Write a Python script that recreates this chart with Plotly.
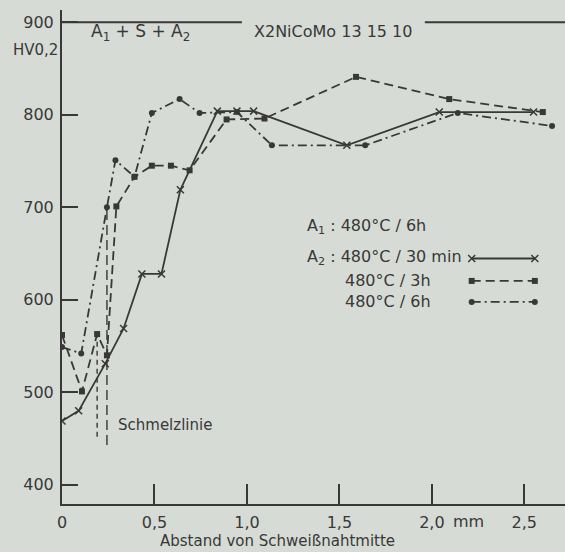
import plotly.graph_objects as go

# ---- data ----
x_30min = [0, 0.09, 0.234, 0.333, 0.432, 0.538, 0.64, 0.84, 0.946, 1.036, 1.54, 2.04, 2.55]
hv_30min = [469, 480, 531, 569, 628, 628, 719, 804, 804, 804, 767, 803, 803]

x_3h = [0, 0.108, 0.19, 0.243, 0.294, 0.392, 0.486, 0.589, 0.69, 0.89, 1.095, 1.59, 2.094, 2.6]
hv_3h = [562, 501, 563, 540, 701, 733, 745, 745, 740, 795, 796, 841, 817, 803]

x_6h = [0, 0.104, 0.243, 0.289, 0.392, 0.486, 0.636, 0.744, 0.946, 1.135, 1.64, 2.14, 2.65]
hv_6h = [549, 542, 700, 751, 733, 802, 817, 802, 803, 767, 767, 802, 788]

# fusion lines (Schmelzlinie)
schmelz_x = [0.19, 0.243]
schmelz_lo = [452, 443]
schmelz_hi = [563, 700]

x_tickvals = [0, 0.5, 1.0, 1.5, 2.0, 2.5]
x_ticktext = ["0", "0,5", "1,0", "1,5", "2,0", "2,5"]
y_tickvals = [400, 500, 600, 700, 800, 900]

legend_names = ["480°C / 30 min", "480°C / 3h", "480°C / 6h"]
legend_key_x = [0, 1]

INK = "#383838"
BG = "#d7dbd5"
FONT = "DejaVu Sans"

fig = go.Figure()

common = dict(mode="lines+markers", showlegend=False, hoverinfo="skip")
fig.add_trace(go.Scatter(x=x_30min, y=hv_30min,
                         line=dict(color=INK, width=1.8),
                         marker=dict(symbol="x-thin", size=7, line=dict(color=INK, width=1.5)),
                         **common))
fig.add_trace(go.Scatter(x=x_3h, y=hv_3h,
                         line=dict(color=INK, width=1.8, dash="9px,5px"),
                         marker=dict(symbol="square", size=6, color=INK),
                         **common))
fig.add_trace(go.Scatter(x=x_6h, y=hv_6h,
                         line=dict(color=INK, width=1.8, dash="9px,4px,2px,4px"),
                         marker=dict(symbol="circle", size=6, color=INK),
                         **common))

# Schmelzlinie vertical lines
fig.add_trace(go.Scatter(x=[schmelz_x[0], schmelz_x[0]], y=[schmelz_lo[0], schmelz_hi[0]],
                         mode="lines", line=dict(color=INK, width=1.4, dash="5px,4px"),
                         showlegend=False, hoverinfo="skip"))
fig.add_trace(go.Scatter(x=[schmelz_x[1], schmelz_x[1]], y=[schmelz_lo[1], schmelz_hi[1]],
                         mode="lines", line=dict(color=INK, width=1.4, dash="10px,5px"),
                         showlegend=False, hoverinfo="skip"))

# legend keys on an overlay axis (0..1 paper-like)
key_y = [0.497, 0.4516, 0.409]
key_styles = [
    (dict(color=INK, width=1.8), dict(symbol="x-thin", size=7, line=dict(color=INK, width=1.5))),
    (dict(color=INK, width=1.8, dash="9px,5px"), dict(symbol="square", size=6, color=INK)),
    (dict(color=INK, width=1.8, dash="9px,4px,2px,4px"), dict(symbol="circle", size=6, color=INK)),
]
kx0, kx1 = 0.8145, 0.940
for ky, (ln, mk) in zip(key_y, key_styles):
    fig.add_trace(go.Scatter(x=[kx0 + (kx1 - kx0) * t for t in legend_key_x], y=[ky, ky],
                             xaxis="x2", yaxis="y2", mode="lines+markers",
                             line=ln, marker=mk, showlegend=False, hoverinfo="skip"))

fig.update_layout(
    width=565, height=552,
    margin=dict(l=62, r=0, t=10, b=48),
    paper_bgcolor=BG, plot_bgcolor=BG,
    font=dict(family=FONT, color=INK, size=16),
    xaxis=dict(range=[0, 2.72], showgrid=False, zeroline=False,
               showline=True, linecolor=INK, linewidth=2,
               tickvals=x_tickvals, ticktext=x_ticktext,
               ticks="inside", ticklen=20, tickwidth=1.6, tickcolor=INK,
               tickfont=dict(size=16), ticklabelstandoff=3),
    yaxis=dict(range=[379.3, 913.3], showgrid=False, zeroline=False,
               showline=True, linecolor=INK, linewidth=2,
               tickvals=y_tickvals,
               ticks="inside", ticklen=16, tickwidth=1.6, tickcolor=INK,
               tickfont=dict(size=16), ticklabelstandoff=3),
    xaxis2=dict(range=[0, 1], overlaying="x", visible=False),
    yaxis2=dict(range=[0, 1], overlaying="y", visible=False),
)

# top line at HV 900 (interrupted by the title)
fig.add_shape(type="line", x0=0, x1=0.973, y0=900, y1=900, xref="x", yref="y",
              line=dict(color=INK, width=2))
fig.add_shape(type="line", x0=1.962, x1=2.72, y0=900, y1=900, xref="x", yref="y",
              line=dict(color=INK, width=2))

ann = []
ann.append(dict(x=0.422, y=889, xref="x", yref="y", text="A<sub>1</sub> + S + A<sub>2</sub>",
                showarrow=False, font=dict(size=17), xanchor="center", yanchor="middle"))
ann.append(dict(x=1.465, y=890.5, xref="x", yref="y", text="X2NiCoMo 13 15 10",
                showarrow=False, font=dict(size=16), xanchor="center", yanchor="middle"))
ann.append(dict(x=0, y=870, xref="x", yref="y", text="HV0,2", xshift=-2,
                showarrow=False, font=dict(size=15), xanchor="right", yanchor="middle"))
ann.append(dict(x=0.292, y=465, xref="x", yref="y", text="Schmelzlinie",
                showarrow=False, font=dict(size=15), xanchor="left", yanchor="middle"))
ann.append(dict(x=2.2, y=-0.036, xref="x", yref="paper", text="mm",
                showarrow=False, font=dict(size=16), xanchor="center", yanchor="middle"))
ann.append(dict(x=1.168, y=-0.074, xref="x", yref="paper", text="Abstand von Schweißnahtmitte",
                showarrow=False, font=dict(size=15), xanchor="center", yanchor="middle"))
# legend texts
ann.append(dict(x=0.483, y=0.5625, xref="paper", yref="paper", text="A<sub>1</sub> : 480°C / 6h",
                showarrow=False, font=dict(size=16), xanchor="left", yanchor="middle"))
ann.append(dict(x=0.483, y=0.4986, xref="paper", yref="paper", text="A<sub>2</sub> : " + legend_names[0],
                showarrow=False, font=dict(size=16), xanchor="left", yanchor="middle"))
ann.append(dict(x=0.5587, y=0.4516, xref="paper", yref="paper", text=legend_names[1],
                showarrow=False, font=dict(size=16), xanchor="left", yanchor="middle"))
ann.append(dict(x=0.5587, y=0.409, xref="paper", yref="paper", text=legend_names[2],
                showarrow=False, font=dict(size=16), xanchor="left", yanchor="middle"))
fig.update_layout(annotations=ann)

fig.write_html("out.html")
